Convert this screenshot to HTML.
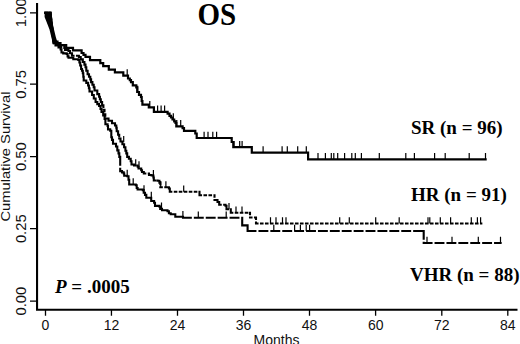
<!DOCTYPE html>
<html><head><meta charset="utf-8"><style>
html,body{margin:0;padding:0;background:#fff;width:520px;height:344px;overflow:hidden}
svg{display:block}
.t{font-family:"Liberation Sans",sans-serif;font-size:14px;fill:#111}
.b{font-family:"Liberation Serif",serif;font-weight:bold;fill:#000}
</style></head><body>
<svg width="520" height="344" viewBox="0 0 520 344">
<g stroke="#000" fill="none">
<path d="M37.05 3V309.8H517.5" stroke-width="2.1"/>
<path d="M30 12.8H37M30 84.2H37M30 156.6H37M30 228.7H37M30 301.1H37" stroke-width="1.3"/>
<path d="M45.5 310v5.8M111.45 310v5.8M177.5 310v5.8M243.5 310v5.8M309.5 310v5.8M375.6 310v5.8M441.8 310v5.8M507.8 310v5.8" stroke-width="1.3"/>
</g>
<g class="t" text-anchor="middle">
<text x="45.5" y="330">0</text>
<text x="111.5" y="330">12</text>
<text x="177.6" y="330">24</text>
<text x="243.6" y="330">36</text>
<text x="309.6" y="330">48</text>
<text x="375.7" y="330">60</text>
<text x="441.7" y="330">72</text>
<text x="507.8" y="330">84</text>
<text x="276.5" y="345">Months</text>
<text transform="translate(26,12.8) rotate(-90) scale(1.06,1)">1.00</text>
<text transform="translate(26,84.4) rotate(-90) scale(1.06,1)">0.75</text>
<text transform="translate(26,156.7) rotate(-90) scale(1.06,1)">0.50</text>
<text transform="translate(26,228.7) rotate(-90) scale(1.06,1)">0.25</text>
<text transform="translate(26,301.1) rotate(-90) scale(1.06,1)">0.00</text>
<text transform="translate(9.9,156.6) rotate(-90)" font-size="13" textLength="130" lengthAdjust="spacingAndGlyphs">Cumulative Survival</text>
</g>
<g class="b">
<text transform="translate(197.5,25) scale(1,1.06)" font-size="29">OS</text>
<text x="411" y="134" font-size="19">SR (n = 96)</text>
<text x="411" y="200.7" font-size="19">HR (n = 91)</text>
<text x="410" y="281.2" font-size="19">VHR (n = 88)</text>
<text x="55" y="292.8" font-size="19"><tspan font-style="italic">P</tspan> = .0005</text>
</g>

<path d="M44.6,11.8 L50.5,11.8 L51.3,17 L54,29.5 L55.8,37 L57.5,42.5 L53,44 L52,40 L49.5,29.5 L46.5,21.8 L44.6,17 Z" fill="#000"/>
<g fill="none" stroke="#000" stroke-width="2.2" stroke-linejoin="miter" stroke-linecap="square">
<path d="M45.3,12.8 H50.5 L53.5,41.5 H57.5 V43 H60.5 V45.2 H66.2 V47.8 H73 V50.4 H81.6 V53 H83.5 V54.8 H85.5 V56.8 H90 V60.1 H100.3 V63.2 H103.2 V66.1 H108.8 V69.6 H114.9 V72.4 H123.3 V75.6 H128 V78.5 H129.8 V80.2 H131 V82.2 H132.8 V85.3 H136.3 V87.5 H137.2 V92 H139 V94.8 H141 V97 H141.7 V101 H142.4 V104.7 H148.8 V107.4 H153.9 V111.9 H167.6 V113.6 H169.5 V115.8 H171 V117.5 H172.5 V119.5 H174.2 V121.3 H175.5 V123 H176.3 V126.3 H182.6 V128.2 H184 V130.8 H195.3 V133.5 H196.7 V138 H231.7 V142 H233.3 V147.2 H251.8 V152.6 H308.1 V159.3 H485.6"/>
</g>
<g fill="none" stroke="#000" stroke-width="2.1" stroke-linecap="square">
<path d="M45.3,12.8L50.5,12.8M50.5,12.8L54,43M54,43L56.5,43M56.5,43L56.5,45M56.5,45L59.7,45M59.7,45L59.7,47M59.7,47L64.3,47M64.3,47L64.3,48M64.3,48L65,48M65,48L65,50M65,50L68.5,50M68.5,50L68.5,51M68.5,51L70,51M70,51L70,53.3M70,53.3L72,53.3M72,53.3L72,55.7M72,55.7L78.9,55.7M78.9,55.7L78.9,57M78.9,57L80.7,57M80.7,57L80.7,59.4M80.7,59.4L82.8,59.4M82.8,59.4L82.8,62M82.8,62L84.4,62M84.4,62L84.4,64.6M84.4,64.6L85.5,64.6M85.5,64.6L85.5,67.2M85.5,67.2L86.3,67.2M86.3,67.2L86.3,70.7M86.3,70.7L87.6,70.7M87.6,70.7L87.6,74.2M87.6,74.2L89,74.2M89,74.2L89,76.8M89,76.8L90.3,76.8M90.3,76.8L90.3,79.4M90.3,79.4L91.1,79.4M91.1,79.4L91.1,82.1M91.1,82.1L92.4,82.1M92.4,82.1L92.4,84.7M92.4,84.7L93.7,84.7M93.7,84.7L93.7,87.3M93.7,87.3L94.5,87.3M94.5,87.3L94.5,90.5M94.5,90.5L97.3,90.5M97.3,90.5L97.3,94.1M97.3,94.1L99.1,94.1M99.1,94.1L99.1,96.7M99.1,96.7L99.9,96.7M99.9,96.7L99.9,99.3M99.9,99.3L100.8,99.3M100.8,99.3L100.8,102M100.8,102L102.1,102M102.1,102L102.1,105.4M102.1,105.4L103.4,105.4M103.4,105.4L103.4,109.8M103.4,109.8L104.5,109.8M104.5,109.8L104.5,114.2M104.5,114.2L105.3,114.2M105.3,114.2L105.3,118.5M105.3,118.5L108.5,118.5M108.5,118.5L108.5,120.7M108.5,120.7L112,120.7M112,120.7L112,123.3M112,123.3L115,123.3M115,123.3L115,125.5M115,125.5L116.3,125.5M116.3,125.5L116.3,127.7M116.3,127.7L116.7,127.7M116.7,127.7L116.7,131.2M116.7,131.2L118.1,131.2M118.1,131.2L118.1,134.7M118.1,134.7L119.2,134.7M119.2,134.7L119.2,138.5M119.2,138.5L120.5,138.5M120.5,138.5L120.5,141.5M120.5,141.5L122.4,141.5M122.4,141.5L122.4,144.3M122.4,144.3L124.1,144.3M124.1,144.3L124.1,147.3M124.1,147.3L125.4,147.3M125.4,147.3L125.4,150.8M125.4,150.8L126.3,150.8M126.3,150.8L126.3,153.4M126.3,153.4L127.2,153.4M127.2,153.4L127.2,156.9M127.2,156.9L128.9,156.9M128.9,156.9L128.9,158.7M128.9,158.7L130.7,158.7M130.7,158.7L130.7,161.3M130.7,161.3L131.5,161.3M131.5,161.3L131.5,164.5M131.5,164.5L134,164.5M134,164.5L134,165.5M134,165.5L137.7,165.5M137.7,165.5L137.7,166.7M137.7,166.7L138.5,166.7M138.5,166.7L138.5,168.5M138.5,168.5L141.2,168.5M141.2,168.5L141.2,170.2M141.2,170.2L142,170.2M142,170.2L142,172M142,172L143.8,172M143.8,172L143.8,173.5M143.8,173.5L149,173.5M149,173.5L149,175M149,175L151.6,175M151.6,175L151.6,175.5M151.6,175.5L153.4,175.5M153.4,175.5L153.4,177.5M153.4,177.5L153.8,177.5M153.8,177.5L153.8,180.5M153.8,180.5L157.6,180.5M157.6,180.5L157.6,180.8M157.6,180.8L159.4,180.8M159.4,180.8L159.4,182.7M159.4,182.7L160.3,182.7M160.3,182.7L160.3,187.3M160.3,187.3L168.9,187.3M168.9,187.3L168.9,188.5M168.9,188.5L169.8,188.5M169.8,188.5L169.8,191.8M169.8,191.8L199.5,191.8M199.5,191.8L199.5,195.3M199.5,195.3L214.5,195.3M214.5,195.3L214.5,200M214.5,200L217.5,200M217.5,200L217.5,202M217.5,202L219.2,202M219.2,202L219.2,204.7M219.2,204.7L225.5,204.7M225.5,204.7L225.5,205.8M225.5,205.8L226.5,205.8M226.5,205.8L226.5,209.3M226.5,209.3L230.8,209.3M230.8,209.3L230.8,212.8M230.8,212.8L250,212.8M250,212.8L250,217.5M250,217.5L256,217.5M256,217.5L256,223.5M256,223.5L481.3,223.5" stroke-dasharray="1.5 3.5"/>
<path d="M45.3,12.8L50.5,12.8M50.5,12.8L53.5,43M53.5,43L55.5,43M55.5,43L55.5,45.5M55.5,45.5L58.5,45.5M58.5,45.5L58.5,47.5M58.5,47.5L60.6,47.5M60.6,47.5L60.6,49.4M60.6,49.4L61.5,49.4M61.5,49.4L61.5,52.5M61.5,52.5L63.2,52.5M63.2,52.5L63.2,53.4M63.2,53.4L66.7,53.4M66.7,53.4L66.7,54M66.7,54L67.6,54M67.6,54L67.6,56.4M67.6,56.4L68.5,56.4M68.5,56.4L68.5,57.8M68.5,57.8L73.3,57.8M73.3,57.8L73.3,59.2M73.3,59.2L78.3,59.2M78.3,59.2L78.3,60M78.3,60L79.4,60M79.4,60L79.4,62.5M79.4,62.5L80.2,62.5M80.2,62.5L80.2,65.5M80.2,65.5L81.1,65.5M81.1,65.5L81.1,69M81.1,69L82,69M82,69L82,70.7M82,70.7L82.8,70.7M82.8,70.7L82.8,73.3M82.8,73.3L83.3,73.3M83.3,73.3L83.3,76.8M83.3,76.8L83.7,76.8M83.7,76.8L83.7,80.5M83.7,80.5L86.3,80.5M86.3,80.5L86.3,82.9M86.3,82.9L88.1,82.9M88.1,82.9L88.1,85.5M88.1,85.5L88.9,85.5M88.9,85.5L88.9,88.2M88.9,88.2L89.5,88.2M89.5,88.2L89.5,91.5M89.5,91.5L92.1,91.5M92.1,91.5L92.1,95M92.1,95L93.8,95M93.8,95L93.8,98.5M93.8,98.5L95.6,98.5M95.6,98.5L95.6,102M95.6,102L97.3,102M97.3,102L97.3,104.1M97.3,104.1L99.1,104.1M99.1,104.1L99.1,106M99.1,106L100.5,106M100.5,106L100.5,109M100.5,109L101.5,109M101.5,109L101.5,112M101.5,112L103.2,112M103.2,112L103.2,115.5M103.2,115.5L104.6,115.5M104.6,115.5L104.6,119M104.6,119L105.4,119M105.4,119L105.4,124.2M105.4,124.2L107.6,124.2M107.6,124.2L107.6,126M107.6,126L108,126M108,126L108,129.4M108,129.4L110.2,129.4M110.2,129.4L110.2,130.7M110.2,130.7L111.3,130.7M111.3,130.7L111.3,137.3M111.3,137.3L112,137.3M112,137.3L112,139.9M112,139.9L113,139.9M113,139.9L113,143.8M113,143.8L116,143.8M116,143.8L116,146.5M116,146.5L117.3,146.5M117.3,146.5L117.3,150.4M117.3,150.4L118.5,150.4M118.5,150.4L118.5,153.4M118.5,153.4L119.3,153.4M119.3,153.4L119.3,156.9M119.3,156.9L120.2,156.9M120.2,156.9L120.2,171.1M120.2,171.1L122,171.1M122,171.1L122,172.4M122,172.4L123.7,172.4M123.7,172.4L123.7,173.5M123.7,173.5L124.2,173.5M124.2,173.5L124.2,175.8M124.2,175.8L127.2,175.8M127.2,175.8L127.2,176.3M127.2,176.3L128.5,176.3M128.5,176.3L128.5,179.8M128.5,179.8L129.2,179.8M129.2,179.8L129.2,184.5M129.2,184.5L135.8,184.5M135.8,184.5L135.8,185.3M135.8,185.3L136.7,185.3M136.7,185.3L136.7,188M136.7,188L137.6,188M137.6,188L137.6,189.5M137.6,189.5L142.8,189.5M142.8,189.5L142.8,190.1M142.8,190.1L143.7,190.1M143.7,190.1L143.7,192.7M143.7,192.7L145,192.7M145,192.7L145,194.9M145,194.9L146.3,194.9M146.3,194.9L146.3,197.8M146.3,197.8L151.2,197.8M151.2,197.8L151.2,201M151.2,201L154.1,201M154.1,201L154.1,202.8M154.1,202.8L155,202.8M155,202.8L155,205.9M155,205.9L159.5,205.9M159.5,205.9L159.5,206.7M159.5,206.7L160.2,206.7M160.2,206.7L160.2,208.9M160.2,208.9L162,208.9M162,208.9L162,210.2M162,210.2L167.5,210.2M167.5,210.2L167.5,211.3M167.5,211.3L168.9,211.3M168.9,211.3L168.9,213.3M168.9,213.3L170.7,213.3M170.7,213.3L170.7,214.3M170.7,214.3L175.3,214.3M175.3,214.3L175.3,216.8M175.3,216.8L183,216.8M183,216.8L183,217.7M183,217.7L242.2,217.7M242.2,217.7L242.2,225.4M242.2,225.4L247.6,225.4M247.6,225.4L247.6,231M247.6,231L423.7,231M423.7,231L423.7,243M423.7,243L500.6,243" stroke-dasharray="7.8 4.1"/>
</g>
<g fill="none" stroke="#000" stroke-width="1.2">
<path d="M127.2,69.3V75.6 M137.7,85.7V92 M149.8,101.10000000000001V107.4 M157.6,105.60000000000001V111.9 M161.1,105.60000000000001V111.9 M164.6,105.60000000000001V111.9 M173.3,113.2V119.5 M176.8,120.0V126.3 M180.7,120.0V126.3 M204.1,131.7V138 M208,131.7V138 M212.8,131.7V138 M216.6,131.7V138 M234,140.89999999999998V147.2 M239.7,140.89999999999998V147.2 M242.1,140.89999999999998V147.2 M263.1,146.29999999999998V152.6 M282.1,146.29999999999998V152.6 M287.3,146.29999999999998V152.6 M297.7,146.29999999999998V152.6 M306.3,146.29999999999998V152.6 M318,153.0V159.3 M325.4,153.0V159.3 M331.3,153.0V159.3 M333.8,153.0V159.3 M337.7,153.0V159.3 M344.6,153.0V159.3 M351.8,153.0V159.3 M355.3,153.0V159.3 M361.4,153.0V159.3 M379.3,153.0V159.3 M405.8,153.0V159.3 M414.4,153.0V159.3 M434.6,153.0V159.3 M445.2,153.0V159.3 M469.2,153.0V159.3 M485.5,153.0V159.3"/>
<path d="M123.7,136.0V142.3 M135.7,159.2V165.5 M139,161.2V167.5 M153.4,170.0V176.3 M160.7,180.89999999999998V187.2 M165.9,181.2V187.5 M183.7,185.5V191.8 M229,203.0V209.3 M236,206.5V212.8 M242,206.5V212.8 M270.5,217.2V223.5 M276,217.2V223.5 M282.5,217.2V223.5 M286,217.2V223.5 M339.7,217.2V223.5 M349.3,217.2V223.5 M375.7,217.2V223.5 M399.2,217.2V223.5 M428,217.2V223.5 M429.8,217.2V223.5 M440.3,217.2V223.5 M450.6,217.2V223.5 M471.3,217.2V223.5 M477.4,217.2V223.5 M480.6,217.2V223.5"/>
<path d="M127.2,169.7V176 M133.2,178.2V184.5 M144,185.2V191.5 M151.3,191.7V198 M161.5,202.6V208.9 M182.9,210.89999999999998V217.2 M198.3,211.39999999999998V217.7 M226.2,211.39999999999998V217.7 M273.8,224.7V231 M294.6,224.7V231 M300.4,224.7V231 M306.2,224.7V231 M309.6,224.7V231 M427,236.7V243 M452,236.7V243 M478.3,236.7V243 M500.5,236.7V243"/>
</g>

</svg>
</body></html>
